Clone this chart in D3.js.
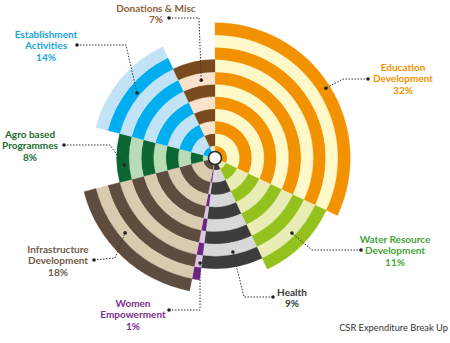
<!DOCTYPE html>
<html>
<head>
<meta charset="utf-8">
<script src="https://cdn.jsdelivr.net/npm/d3@7"></script>
<style>
  body { margin: 0; background: #fff; }
  svg { display: block; }
  text { font-family: Lato, "DejaVu Sans", sans-serif; }
</style>
</head>
<body>
<div id="chart-area"></div>
<script>
// DATA
var categories = ["Education Development", "Water Resource Development", "Health", "Women Empowerment",
	"Infrastructure Development", "Agro based Programmes", "Establishment Activities", "Donations & Misc"];
var shares = [32, 11, 9, 1, 18, 8, 14, 7];
// radial length of each slice, counted in stripe rings
var rings = [11, 10, 9, 10, 11, 8, 10, 8];
var shareLabels = ["32%", "11%", "9%", "1%", "18%", "8%", "14%", "7%"];

// COLOURS (outer ring colour, alternate ring colour, label colour)
var outerColors = ["#f39200", "#95c11f", "#3c3c3c", "#6b2586", "#5e4c3e", "#0b6632", "#c2e2f6", "#7a4a1f"];
var altColors = ["#fff8c8", "#e8edb6", "#d8d8d8", "#dcc6e8", "#dacab0", "#b8dcb6", "#00aeef", "#fbe2cd"];
var textColors = ["#f39200", "#43a535", "#3a3a3a", "#7d2e8e", "#6e5b4b", "#1b6b2e", "#1aa3dd", "#8c6239"];

var width = 450, height = 343;
var cx = 215, cy = 158;

var svg = d3.select("#chart-area")
	.append("svg")
	.attr("width", width)
	.attr("height", height);

var g = svg.append("g")
	.attr("transform", "translate(" + cx + "," + cy + ")");

// SCALES
var r = d3.scaleLinear()
	.domain([0, 11])
	.range([0, 135.3]);

var pie = d3.pie()
	.sort(null)
	.value(function (d) { return d; });

var arcs = pie(shares);

// STRIPED SLICES
arcs.forEach(function (a, i) {
	var n = rings[i];
	var bands = d3.range(n);
	g.selectAll(null)
		.data(bands)
		.enter()
		.append("path")
		.attr("d", function (k) {
			return d3.arc()
				.innerRadius(r(k))
				.outerRadius(r(k + 1))
				.startAngle(a.startAngle)
				.endAngle(a.endAngle)();
		})
		.attr("fill", function (k) {
			return ((n - 1 - k) % 2 === 0) ? outerColors[i] : altColors[i];
		})
		.attr("stroke", function (k) {
			return ((n - 1 - k) % 2 === 0) ? outerColors[i] : altColors[i];
		})
		.attr("stroke-width", 0.3);
});

// CENTRE HUB
g.append("circle")
	.attr("r", 6.5)
	.attr("fill", "#fff")
	.attr("stroke", "#2b2b2b")
	.attr("stroke-width", 1.6);

// LABEL LAYOUT
var labelLayout = [
	{ lines: ["Education", "Development"], x: 403, y: 67, path: [[368, 79], [343, 79]], dot: [57.8, 131] },
	{ lines: ["Water Resource", "Development"], x: 395, y: 239, path: [[361, 250], [312, 250]], dot: [134.3, 107.5] },
	{ lines: ["Health"], x: 292, y: 292, path: [[273, 297], [244, 297]], dot: [169.2, 95.7] },
	{ lines: ["Women", "Empowerment"], x: 133, y: 303, path: [[169, 310], [200, 310]], dot: [188.1, 106] },
	{ lines: ["Infrastructure", "Development"], x: 58, y: 249, path: [[94, 260], [115, 258]], dot: [230.2, 117] },
	{ lines: ["Agro based", "Programmes"], x: 30, y: 134, path: [[64, 145], [110, 145]], dot: [265.6, 91] },
	{ lines: ["Establishment", "Activities"], x: 46, y: 34, path: [[77, 45], [126, 45]], dot: [309.8, 101.5] },
	{ lines: ["Donations & Misc"], x: 156, y: 8, path: [[169, 18], [199, 18]], dot: [350, 79] }
];

function polar(deg, rad) {
	var t = deg * Math.PI / 180;
	return [cx + rad * Math.sin(t), cy - rad * Math.cos(t)];
}

var line = d3.line();

labelLayout.forEach(function (L, i) {
	var end = polar(L.dot[0], L.dot[1]);
	var pts = L.path.concat([end]);

	svg.append("path")
		.attr("d", line(pts))
		.attr("fill", "none")
		.attr("stroke", "#333")
		.attr("stroke-width", 1)
		.attr("stroke-dasharray", "1.5,1.5");

	[pts[0], end].forEach(function (p) {
		svg.append("circle")
			.attr("cx", p[0])
			.attr("cy", p[1])
			.attr("r", 1.8)
			.attr("fill", "#222");
	});

	var t = svg.append("text")
		.attr("x", L.x)
		.attr("y", L.y)
		.attr("text-anchor", "middle")
		.attr("font-size", "10px")
		.attr("font-weight", "bold")
		.attr("fill", textColors[i]);

	L.lines.concat([shareLabels[i]]).forEach(function (s, j) {
		t.append("tspan")
			.attr("x", L.x)
			.attr("y", L.y + j * 11.5)
			.attr("dy", "0.35em")
			.text(s);
	});
});

// TITLE
svg.append("text")
	.attr("x", 448)
	.attr("y", 331)
	.attr("text-anchor", "end")
	.attr("font-size", "9.3px")
	.attr("fill", "#333")
	.text("CSR Expenditure Break Up");
</script>
</body>
</html>
